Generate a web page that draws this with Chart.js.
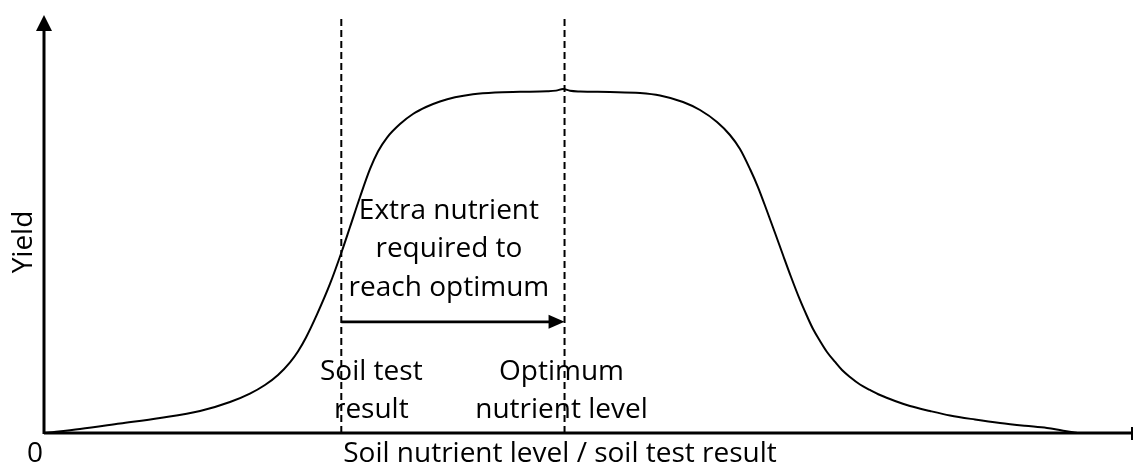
<!DOCTYPE html>
<html>
<head>
<meta charset="utf-8">
<script src="https://cdn.jsdelivr.net/npm/chart.js@4/dist/chart.umd.min.js"></script>
<style>
  html, body { margin: 0; padding: 0; background: #fff; }
  #wrap { width: 1134px; height: 465px; position: relative; }
</style>
</head>
<body>
<div id="wrap"><canvas id="c" width="1134" height="465"></canvas></div>
<script>
// Soil nutrient level (arbitrary units, 0–100)
const nutrientLevels = [0.00, 3.31, 6.98, 10.65, 14.33, 17.08, 18.91, 20.29, 21.49, 22.59, 23.32, 24.06, 25.07, 26.26, 27.36, 28.10, 29.02, 29.94, 30.67, 31.50, 32.69, 33.88, 35.08, 36.36, 37.74, 39.39, 41.41, 43.71, 46.19, 47.02, 47.66, 48.30, 49.22, 51.97, 54.73, 56.57, 58.68, 60.24, 61.80, 62.99, 63.91, 64.83, 65.56, 66.39, 67.13, 67.86, 68.60, 69.42, 70.06, 70.62, 71.26, 71.90, 72.64, 73.28, 74.01, 74.93, 75.85, 76.77, 78.15, 79.52, 81.36, 83.20, 85.49, 87.79, 90.08, 92.10, 93.48, 94.49, 94.95];
// Yield (arbitrary units, 0–100)
const yieldValues = [0.00, 0.96, 2.27, 3.59, 5.26, 7.42, 9.43, 11.48, 13.88, 16.91, 19.50, 22.85, 28.37, 35.65, 43.54, 49.28, 56.46, 63.16, 67.34, 70.69, 73.92, 76.32, 77.99, 79.31, 80.31, 81.05, 81.48, 81.63, 81.75, 81.91, 82.30, 81.87, 81.70, 81.58, 81.34, 80.74, 79.19, 77.27, 74.40, 71.29, 67.94, 63.16, 58.85, 53.11, 47.85, 42.58, 37.32, 31.82, 27.99, 24.88, 22.01, 19.38, 16.99, 15.07, 13.40, 11.60, 10.29, 9.09, 7.66, 6.46, 5.26, 4.19, 3.23, 2.39, 1.72, 1.20, 0.60, 0.17, 0.00];
const soilTestLevel = 27.3;
const optimumLevel = 47.8;
const arrowYield = 26.6;
const axisTitleX = 'Soil nutrient level / soil test result';
const axisTitleY = 'Yield';
const originLabel = '0';
const arrowLabel = ['Extra nutrient', 'required to', 'reach optimum'];
const soilTestLabel = ['Soil test', 'result'];
const optimumLabel = ['Optimum', 'nutrient level'];

const FONT = '28px "Open Sans", sans-serif';

const curvePts = nutrientLevels.map((x, i) => ({ x: x, y: yieldValues[i] }));

const decor = {
  id: 'decor',
  afterDraw(chart) {
    const ctx = chart.ctx;
    const xs = chart.scales.x, ys = chart.scales.y;
    const a = chart.chartArea;
    ctx.save();
    ctx.fillStyle = '#000';
    ctx.strokeStyle = '#000';
    // Y axis
    ctx.lineWidth = 3;
    ctx.beginPath();
    ctx.moveTo(a.left, a.bottom + 1);
    ctx.lineTo(a.left, a.top + 12);
    ctx.stroke();
    ctx.beginPath();
    ctx.moveTo(a.left, a.top);
    ctx.lineTo(a.left - 8, a.top + 16);
    ctx.lineTo(a.left + 8, a.top + 16);
    ctx.closePath();
    ctx.fill();
    // X axis
    ctx.beginPath();
    ctx.moveTo(a.left, a.bottom);
    ctx.lineTo(a.right - 1, a.bottom);
    ctx.stroke();
    ctx.lineWidth = 2;
    ctx.beginPath();
    ctx.moveTo(a.right - 1, a.bottom - 6);
    ctx.lineTo(a.right - 1, a.bottom + 7);
    ctx.stroke();
    // Arrowhead of horizontal arrow
    const ax = xs.getPixelForValue(optimumLevel);
    const ay = ys.getPixelForValue(arrowYield);
    ctx.beginPath();
    ctx.moveTo(ax, ay);
    ctx.lineTo(ax - 16, ay - 7);
    ctx.lineTo(ax - 16, ay + 7);
    ctx.closePath();
    ctx.fill();

    // Texts
    ctx.font = FONT;
    ctx.textAlign = 'center';
    ctx.textBaseline = 'alphabetic';
    const drawLines = (lines, cx, ys0) => {
      lines.forEach((t, i) => ctx.fillText(t, cx, ys0[i]));
    };
    const midX = (xs.getPixelForValue(soilTestLevel) + xs.getPixelForValue(optimumLevel)) / 2;
    drawLines(arrowLabel, midX - 4, [219, 257, 296]);
    drawLines(soilTestLabel, xs.getPixelForValue(soilTestLevel) + 30, [380, 418]);
    drawLines(optimumLabel, xs.getPixelForValue(optimumLevel) - 3, [380, 418]);
    ctx.fillText(originLabel, 35, 462);
    ctx.fillText(axisTitleX, 560, 462);
    ctx.save();
    ctx.translate(32, 242);
    ctx.rotate(-Math.PI / 2);
    ctx.fillText(axisTitleY, 0, 0);
    ctx.restore();
    ctx.restore();
  }
};

new Chart(document.getElementById('c'), {
  type: 'line',
  data: {
    datasets: [
      {
        data: curvePts,
        borderColor: '#000',
        borderWidth: 2,
        pointRadius: 0,
        cubicInterpolationMode: 'monotone',
        fill: false
      },
      {
        data: [{ x: soilTestLevel, y: 0 }, { x: soilTestLevel, y: 100 }],
        borderColor: '#000',
        borderWidth: 2,
        borderDash: [7, 4],
        pointRadius: 0,
        tension: 0
      },
      {
        data: [{ x: optimumLevel, y: 0 }, { x: optimumLevel, y: 100 }],
        borderColor: '#000',
        borderWidth: 2,
        borderDash: [7, 4],
        pointRadius: 0,
        tension: 0
      },
      {
        data: [{ x: soilTestLevel, y: arrowYield }, { x: optimumLevel - 1.2, y: arrowYield }],
        borderColor: '#000',
        borderWidth: 2.7,
        pointRadius: 0,
        tension: 0
      }
    ]
  },
  options: {
    responsive: false,
    animation: false,
    events: [],
    layout: { padding: { left: 44, right: 1, top: 15, bottom: 32 } },
    scales: {
      x: { type: 'linear', min: 0, max: 100, display: false },
      y: { type: 'linear', min: 0, max: 100, display: false }
    },
    plugins: { legend: { display: false }, tooltip: { enabled: false } }
  },
  plugins: [decor]
});
</script>
</body>
</html>
